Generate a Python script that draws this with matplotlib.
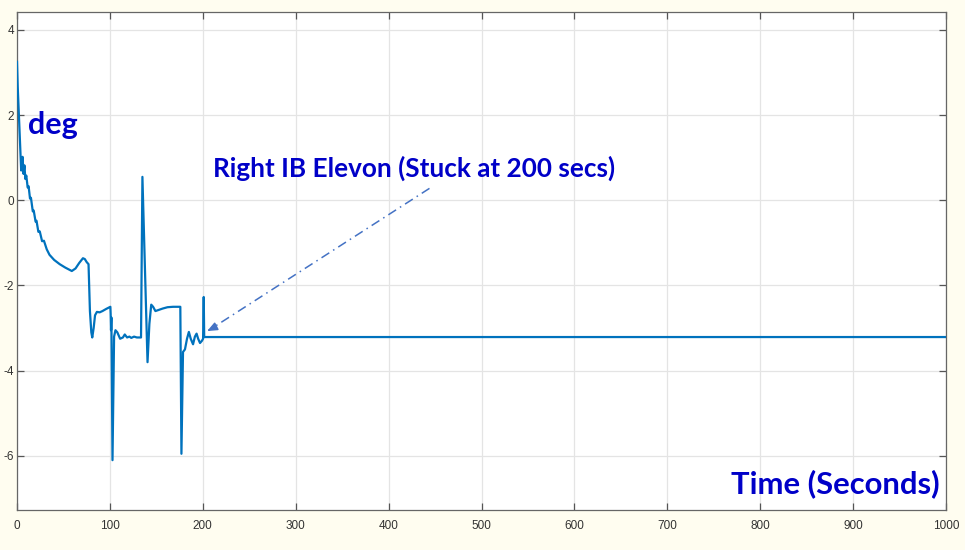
import matplotlib
matplotlib.use("Agg")
import matplotlib.pyplot as plt

plt.rcParams['axes.unicode_minus'] = False

# Right inboard elevon deflection history (deg) vs time (s)
time_s = [0, 0.8, 4.5, 6.0, 7.0, 8.0, 9.0, 10.0, 11.5, 12.5, 14, 15, 17, 18,
          20, 21, 23, 24.5, 27, 29, 32, 35, 40, 46, 52, 59, 63, 67, 71, 73,
          75, 77, 78.5, 80, 81, 82.5, 84, 86, 89, 92, 96, 100.5, 100.8, 101.2,
          101.6, 102.8, 104.5, 106, 108, 111, 114, 116, 118.5, 121, 123, 126,
          129, 133.5, 135, 140.5, 142.5, 144.5, 146.5, 149, 153, 157, 162, 168,
          175.8, 177, 178.7, 180.8, 183, 185, 187, 189.5, 191.5, 193.3, 195,
          197, 199, 200.3, 201, 201.5, 1000]
elevon_deg = [3.25, 2.65, 0.7, 1.02, 0.62, 0.82, 0.5, 0.58, 0.3, 0.33, 0.04,
              0.06, -0.26, -0.24, -0.50, -0.48, -0.74, -0.73, -0.96, -0.95,
              -1.15, -1.28, -1.40, -1.50, -1.58, -1.66, -1.60, -1.47, -1.36,
              -1.38, -1.45, -1.50, -2.6, -3.1, -3.22, -3.0, -2.7, -2.62, -2.63,
              -2.6, -2.55, -2.5, -2.66, -3.05, -2.75, -6.1, -3.2, -3.05, -3.1,
              -3.25, -3.22, -3.15, -3.22, -3.2, -3.23, -3.2, -3.22, -3.22, 0.55,
              -3.8, -2.9, -2.45, -2.5, -2.6, -2.57, -2.54, -2.51, -2.5, -2.5,
              -5.95, -3.56, -3.5, -3.25, -3.09, -3.25, -3.38, -3.2, -3.13, -3.25,
              -3.35, -3.3, -3.25, -2.27, -3.21, -3.21]

x_ticks = [0, 100, 200, 300, 400, 500, 600, 700, 800, 900, 1000]
y_ticks = [-6, -4, -2, 0, 2, 4]

title_text = "Right IB Elevon (Stuck at 200 secs)"
ylabel_text = "deg"
xlabel_text = "Time (Seconds)"

fig = plt.figure(figsize=(9.65, 5.5), dpi=100, facecolor='#fffdf0')
ax = fig.add_axes([17 / 965, 1 - 510 / 550, 929 / 965, 498 / 550])
ax.set_facecolor('white')

ax.plot(time_s, elevon_deg, color='#0072BD', lw=1.6, zorder=3)

ax.set_xlim(0, 1000)
ax.set_ylim(-7.27, 4.42)
ax.set_xticks(x_ticks)
ax.set_yticks(y_ticks)
ax.grid(True, color='#e4e4e4', lw=0.9)
ax.set_axisbelow(True)
ax.tick_params(direction='in', top=True, right=True, length=5, width=0.9,
               color='#555555', labelsize=8.5, labelcolor='#333333')
ax.tick_params(axis='x', pad=7)
ax.tick_params(axis='y', pad=2)
for lab in ax.get_xticklabels() + ax.get_yticklabels():
    lab.set_family('Liberation Sans')
for sp in ax.spines.values():
    sp.set_color('#666666')
    sp.set_linewidth(0.9)

label_font = dict(family='Lato', weight='bold', color='#0000c8')
ax.text(12, 1.76, ylabel_text, fontsize=22, va='center', ha='left', **label_font)
ax.text(993, -6.66, xlabel_text, fontsize=22.3, va='center', ha='right', **label_font)
ax.text(210.8, 0.75, title_text, fontsize=18.8, va='center', ha='left', **label_font)

# dash-dot leader with a solid arrowhead at the stuck point
arrow_tail = (444, 0.28)
arrow_tip = (202, -3.1)
ax.plot([arrow_tail[0], arrow_tip[0] + 6], [arrow_tail[1], arrow_tip[1] + 0.07],
        ls=(0, (6, 3, 1, 3)), color='#4472C4', lw=1.1, zorder=4)
ax.annotate('', xy=arrow_tip, xytext=(arrow_tip[0] + 8, arrow_tip[1] + 0.09),
            arrowprops=dict(arrowstyle='-|>,head_length=0.6,head_width=0.25',
                            color='#4472C4', lw=1.1), zorder=4)

fig.savefig('out.png', dpi=100, facecolor=fig.get_facecolor())
